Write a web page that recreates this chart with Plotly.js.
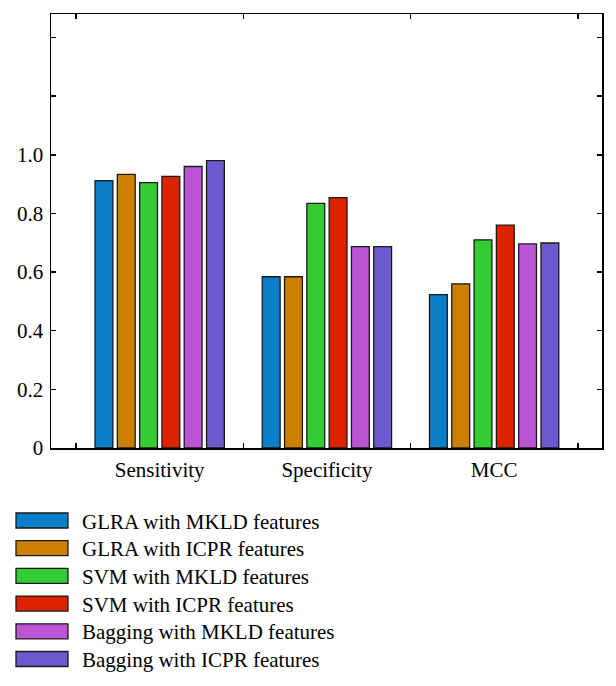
<!DOCTYPE html>
<html>
<head>
<meta charset="utf-8">
<script src="https://cdn.plot.ly/plotly-3.0.1.min.js"></script>
<style>html,body{margin:0;padding:0;background:#fff;}#chart{width:616px;height:686px;}</style>
</head>
<body>
<div id="chart"></div>
<script>
const categories = ['Sensitivity', 'Specificity', 'MCC'];
const seriesNames = [
  'GLRA with MKLD features',
  'GLRA with ICPR features',
  'SVM with MKLD features',
  'SVM with ICPR features',
  'Bagging with MKLD features',
  'Bagging with ICPR features'
];
const glraMkld    = [0.912, 0.584, 0.523];
const glraIcpr    = [0.933, 0.584, 0.560];
const svmMkld     = [0.905, 0.834, 0.710];
const svmIcpr     = [0.926, 0.854, 0.760];
const baggingMkld = [0.960, 0.687, 0.696];
const baggingIcpr = [0.980, 0.687, 0.699];
const seriesValues = [glraMkld, glraIcpr, svmMkld, svmIcpr, baggingMkld, baggingIcpr];
const colors = ['#0B7FC7', '#CC7F00', '#33CC33', '#DD2200', '#BB55D3', '#6A5ACD'];
const yTickVals = [0, 0.2, 0.4, 0.6, 0.8, 1.0, 1.2, 1.4];
const yTickText = ['0', '0.2', '0.4', '0.6', '0.8', '1.0', '', ''];

const W = 616, H = 686;
const M = {l: 51, r: 14, t: 14, b: 238};
const plotW = W - M.l - M.r, plotH = H - M.t - M.b;
const pxX = x => (x - M.l) / plotW;
const pxY = y => (H - M.b - y) / plotH;

const FONT = 'Liberation Serif, Times New Roman, serif';
const FS = 21;

const traces = seriesNames.map((name, i) => ({
  type: 'bar',
  name: name,
  x: categories,
  y: seriesValues[i],
  marker: {color: colors[i], line: {color: '#1a1a1a', width: 1.3}},
  showlegend: false,
  hoverinfo: 'x+y+name'
}));

// custom legend (wide swatches) built from series names/colours
const shapes = [];
const annotations = [];
const legTop = 513, legRow = 27.7, swH = 15, swX0 = 16, swX1 = 68, txtX = 80;
seriesNames.forEach((name, i) => {
  const y0 = legTop + i * legRow;
  shapes.push({
    type: 'rect', xref: 'paper', yref: 'paper',
    x0: pxX(swX0), x1: pxX(swX1), y0: pxY(y0), y1: pxY(y0 + swH),
    fillcolor: colors[i], line: {color: '#1a1a1a', width: 1.3}
  });
  annotations.push({
    xref: 'paper', yref: 'paper', x: pxX(txtX), y: pxY(y0 + swH / 2 + 1),
    xanchor: 'left', yanchor: 'middle', showarrow: false,
    text: name, font: {family: FONT, size: FS, color: '#000'}
  });
});

const layout = {
  width: W, height: H,
  margin: M,
  paper_bgcolor: '#fff', plot_bgcolor: '#fff',
  font: {family: FONT, size: FS, color: '#000'},
  barmode: 'group',
  bargap: 0.2,
  bargroupgap: 0.2,
  xaxis: {
    type: 'category',
    range: [-0.65, 2.645],
    showline: true, linecolor: '#000', linewidth: 1.5,
    mirror: 'ticks',
    ticks: 'inside', ticklen: 5, tickwidth: 1.5, tickcolor: '#000',
    tickson: 'boundaries',
    showgrid: false, zeroline: false,
    ticklabelstandoff: 2,
    tickfont: {family: FONT, size: FS, color: '#000'}
  },
  yaxis: {
    range: [0, 1.48],
    tickvals: yTickVals, ticktext: yTickText,
    showline: true, linecolor: '#000', linewidth: 1.5,
    mirror: 'ticks',
    ticks: 'inside', ticklen: 5, tickwidth: 1.5, tickcolor: '#000',
    showgrid: false, zeroline: false,
    ticklabelstandoff: 2,
    tickfont: {family: FONT, size: FS, color: '#000'}
  },
  shapes: shapes,
  annotations: annotations,
  showlegend: false
};

Plotly.newPlot('chart', traces, layout, {displayModeBar: false, staticPlot: true});
</script>
</body>
</html>
